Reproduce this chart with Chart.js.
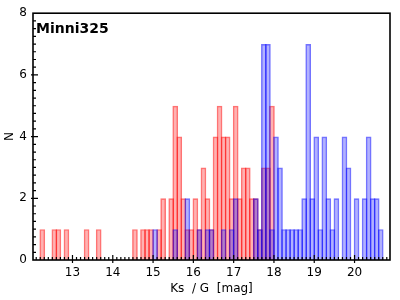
<!DOCTYPE html>
<html>
<head>
<meta charset="utf-8">
<script src="https://cdn.jsdelivr.net/npm/chart.js@4"></script>
<style>
  body { margin: 0; background: #fff; }
</style>
</head>
<body>
<canvas id="hist" width="400" height="300"></canvas>
<script>
// bin centres (0.1 mag bins) and counts
const ksBins = [12.25, 12.55, 12.65, 12.85, 13.35, 13.65,
  14.55, 14.75, 14.85, 14.95, 15.15, 15.25, 15.45, 15.55, 15.65, 15.75, 15.85, 15.95,
  16.05, 16.15, 16.25, 16.35, 16.45, 16.55, 16.65, 16.75, 16.85, 16.95,
  17.05, 17.15, 17.25, 17.35, 17.45, 17.55, 17.65, 17.75, 17.85, 17.95];
const ksCounts = [1, 1, 1, 1, 1, 1,
  1, 1, 1, 1, 1, 2, 2, 5, 4, 2, 1, 1,
  2, 1, 3, 2, 1, 4, 5, 4, 4, 2,
  5, 2, 3, 3, 2, 2, 1, 3, 3, 5];

const gBins = [15.05, 15.55, 15.85, 16.15, 16.35, 16.45, 16.75, 16.95, 17.05,
  17.55, 17.65, 17.75, 17.85, 17.95,
  18.05, 18.15, 18.25, 18.35, 18.45, 18.55, 18.65, 18.75, 18.85, 18.95,
  19.05, 19.15, 19.25, 19.35, 19.45, 19.55, 19.75, 19.85,
  20.05, 20.25, 20.35, 20.45, 20.55, 20.65];
const gCounts = [1, 1, 2, 1, 1, 1, 1, 1, 2,
  2, 1, 7, 7, 1,
  4, 3, 1, 1, 1, 1, 1, 2, 7, 2,
  4, 1, 4, 2, 1, 2, 4, 3,
  2, 2, 4, 2, 2, 1];

const xTicks = [13, 14, 15, 16, 17, 18, 19, 20];
const yTicks = [0, 2, 4, 6, 8];
const titleText = 'Minni325';

function toPoints(bins, counts) {
  return bins.map((b, i) => ({ x: b, y: counts[i] }));
}

// frame, inward ticks and the label in the corner
const framePlugin = {
  id: 'frame',
  afterDraw(chart) {
    const ctx = chart.ctx;
    const a = chart.chartArea;
    const xs = chart.scales.x, ys = chart.scales.y;
    ctx.save();
    ctx.strokeStyle = '#000';
    ctx.lineWidth = 1.6;
    ctx.strokeRect(a.left, a.top, a.right - a.left, a.bottom - a.top);

    ctx.beginPath();
    ctx.lineWidth = 1.2;
    for (let v = 121; v <= 208; v++) {
      const px = xs.getPixelForValue(v / 10);
      const major = v % 10 === 0;
      ctx.moveTo(px, major ? a.bottom + 3 : a.bottom);
      ctx.lineTo(px, a.bottom - (major ? 5 : 3));
    }
    for (let v = 1; v < 32; v++) {
      const py = ys.getPixelForValue(v / 4);
      const major = v % 8 === 0;
      ctx.moveTo(major ? a.left - 2 : a.left, py);
      ctx.lineTo(a.left + (major ? 5 : 3), py);
    }
    ctx.stroke();

    ctx.fillStyle = '#000';
    ctx.font = 'bold 14px "DejaVu Sans"';
    ctx.textBaseline = 'alphabetic';
    ctx.fillText(titleText, a.left + 3, a.top + 19.5);
    ctx.restore();
  }
};

new Chart(document.getElementById('hist'), {
  type: 'bar',
  data: {
    datasets: [{
      label: 'G',
      data: toPoints(gBins, gCounts),
      backgroundColor: 'rgba(0, 0, 255, 0.3)',
      borderColor: 'rgba(0, 0, 255, 0.55)',
      borderWidth: 1.7
    }, {
      label: 'Ks',
      data: toPoints(ksBins, ksCounts),
      backgroundColor: 'rgba(255, 0, 0, 0.3)',
      borderColor: 'rgba(255, 0, 0, 0.55)',
      borderWidth: 1.7
    }]
  },
  options: {
    responsive: false,
    animation: false,
    devicePixelRatio: 1,
    grouped: false,
    barPercentage: 1.41,
    categoryPercentage: 1,
    layout: { padding: { top: 8, right: 10, left: 0, bottom: 0 } },
    plugins: {
      legend: { display: false },
      tooltip: { enabled: false }
    },
    scales: {
      x: {
        type: 'linear',
        offset: false,
        min: 12.02,
        max: 20.88,
        grid: { display: false, drawTicks: false },
        border: { display: false },
        afterBuildTicks: s => { s.ticks = xTicks.map(v => ({ value: v })); },
        afterFit: s => { s.height = 40; },
        ticks: {
          color: '#000',
          padding: 6,
          maxRotation: 0,
          font: { family: 'DejaVu Sans', size: 12 }
        },
        title: {
          display: true,
          text: 'Ks  / G  [mag]',
          color: '#000',
          padding: { top: 0, bottom: 4 },
          font: { family: 'DejaVu Sans', size: 12 }
        }
      },
      y: {
        min: 0,
        max: 8,
        grid: { display: false, drawTicks: false },
        border: { display: false },
        afterBuildTicks: s => { s.ticks = yTicks.map(v => ({ value: v })); },
        afterFit: s => { s.width = 33; },
        ticks: {
          color: '#000',
          padding: 6,
          font: { family: 'DejaVu Sans', size: 12 }
        },
        title: {
          display: true,
          text: 'N',
          color: '#000',
          padding: { top: 3, bottom: 0 },
          font: { family: 'DejaVu Sans', size: 12 }
        }
      }
    }
  },
  plugins: [framePlugin]
});
</script>
</body>
</html>
